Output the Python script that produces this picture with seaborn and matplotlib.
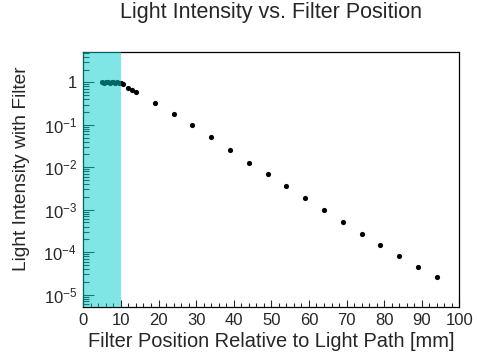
import matplotlib
matplotlib.use("Agg")
import matplotlib.pyplot as plt
import matplotlib.ticker as mticker
import numpy as np
import pandas as pd
import seaborn as sns

# Data
position_mm = [5.0, 5.5, 6.0, 6.5, 7.0, 7.5, 8.0, 8.5, 9.0, 9.5, 10.0,
               10.5, 11.8, 12.9, 13.9,
               19, 24, 29, 34, 39, 44, 49, 54, 59, 64, 69, 74, 79, 84, 89, 94]
intensity = [1.0, 0.99, 1.0, 1.0, 0.99, 1.0, 1.0, 0.99, 1.0, 0.99, 0.98,
             0.93, 0.74, 0.66, 0.58,
             0.32, 0.18, 0.098, 0.052, 0.026, 0.0129, 0.0071, 0.00355,
             0.00186, 0.00098, 0.00051, 0.000275, 0.000151, 8.1e-05,
             4.5e-05, 2.6e-05]
shade_range = [0, 10]

df = pd.DataFrame({"pos": position_mm, "inten": intensity})

sns.set_style("ticks")
plt.rcParams["font.family"] = ["Liberation Sans", "DejaVu Sans"]
plt.rcParams["mathtext.fontset"] = "custom"
plt.rcParams["mathtext.rm"] = "Liberation Sans"
plt.rcParams["mathtext.it"] = "Liberation Sans"

fig = plt.figure(figsize=(4.78, 3.58), dpi=100)
ax = fig.add_axes([0.1743, 0.1433, 0.961 - 0.1743, 0.854 - 0.1433])

sns.scatterplot(data=df, x="pos", y="inten", ax=ax, color="black",
                s=14, linewidth=0, zorder=2, legend=False)
ax.axvspan(shade_range[0], shade_range[1], color="#00cccc", alpha=0.5,
           linewidth=0, zorder=3)
ax.set_axisbelow(True)

ax.set_yscale("log")
ax.set_xlim(0, 100)
ax.set_ylim(5.2e-6, 5.1)

ax.xaxis.set_major_locator(mticker.MultipleLocator(10))
ax.xaxis.set_minor_locator(mticker.MultipleLocator(2))
ax.yaxis.set_major_locator(mticker.LogLocator(base=10, numticks=20))
ax.yaxis.set_minor_locator(mticker.LogLocator(base=10, subs=np.arange(2, 10), numticks=20))
ax.yaxis.set_minor_formatter(mticker.NullFormatter())


def fmt(v, pos):
    e = int(round(np.log10(v)))
    if e == 0:
        return "1"
    return r"$\mathdefault{10^{%d}}$" % e


ax.yaxis.set_major_formatter(mticker.FuncFormatter(fmt))

ax.tick_params(axis="x", which="major", direction="in", length=5, width=0.8,
               labelsize=12, pad=4.5)
ax.tick_params(axis="x", which="minor", direction="in", length=2.8, width=0.8)
ax.tick_params(axis="y", which="major", direction="in", length=8, width=0.8,
               labelsize=12, pad=4.5)
ax.tick_params(axis="y", which="minor", direction="in", length=4, width=0.8)

for sp in ax.spines.values():
    sp.set_visible(True)
    sp.set_linewidth(0.9)
    sp.set_color("black")

ax.set_xlabel("Filter Position Relative to Light Path [mm]", fontsize=14.4)
ax.xaxis.label.set_va("baseline")
ax.xaxis.set_label_coords(0.5, -0.1596)

ax.set_ylabel("Light Intensity with Filter", fontsize=13.8)
ax.yaxis.label.set_va("baseline")
ax.yaxis.set_label_coords(-0.1516, 0.541)

ax.set_title("Light Intensity vs. Filter Position", fontsize=15.5, pad=0,
             y=1.1348, va="baseline")

fig.savefig("out.png", dpi=100)
